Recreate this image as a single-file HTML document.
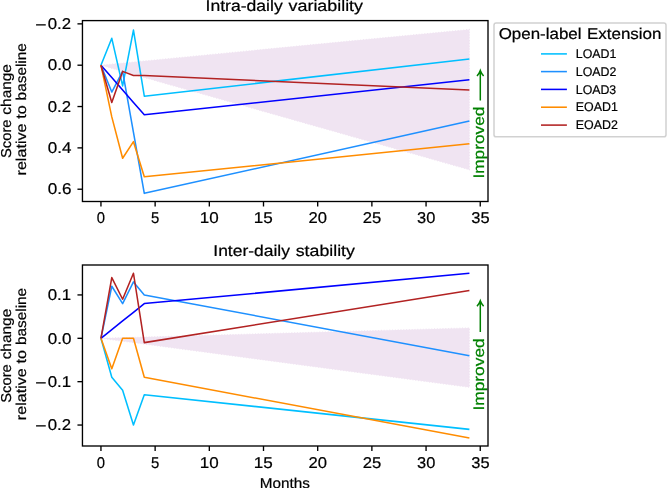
<!DOCTYPE html>
<html><head><meta charset="utf-8"><title>chart</title>
<style>
html,body{margin:0;padding:0;background:#fff;}
body{width:667px;height:488px;overflow:hidden;}
svg{display:block;will-change:transform;}
text{font-family:"Liberation Sans",sans-serif;stroke:#000;stroke-width:0.22px;text-rendering:geometricPrecision;}
text.g{fill:#008000;stroke:#008000;}
</style></head><body>
<svg width="667" height="488" viewBox="0 0 667 488">
<rect x="0" y="0" width="667" height="488" fill="#fff"/>
<polygon points="100.95,65.20 469.41,29.44 469.41,169.79" fill="#F0E4F2" stroke="#F0E4F2" stroke-width="1.1" stroke-dasharray="1.1 1.7"/>
<polyline points="100.95,65.20 111.79,38.33 122.62,85.87 133.46,30.06 144.30,96.20 469.41,59.00" fill="none" stroke="#00BFFF" stroke-width="1.55" stroke-linejoin="round" stroke-linecap="butt"/>
<polyline points="100.95,65.20 111.79,92.07 122.62,71.40 133.46,132.38 144.30,193.35 469.41,121.01" fill="none" stroke="#1E90FF" stroke-width="1.55" stroke-linejoin="round" stroke-linecap="butt"/>
<polyline points="100.95,65.20 111.79,77.60 122.62,90.00 133.46,102.41 144.30,114.81 469.41,79.67" fill="none" stroke="#0000FF" stroke-width="1.55" stroke-linejoin="round" stroke-linecap="butt"/>
<polyline points="100.95,65.20 111.79,116.88 122.62,158.22 133.46,141.68 144.30,176.82 469.41,143.75" fill="none" stroke="#FF8C00" stroke-width="1.55" stroke-linejoin="round" stroke-linecap="butt"/>
<polyline points="100.95,65.20 111.79,102.41 122.62,71.40 133.46,75.53 144.30,75.53 469.41,90.00" fill="none" stroke="#B22222" stroke-width="1.55" stroke-linejoin="round" stroke-linecap="butt"/>
<g transform="translate(484.45,177.10) rotate(-90)">
<text class="g" x="-1.48" y="0.00" font-size="15.20" textLength="71.88" lengthAdjust="spacingAndGlyphs">Improved</text>
</g>
<path d="M480.30 100.60 L480.30 70.80 M477.00 76.10 Q479.30 73.50 480.30 70.60 Q481.30 73.50 483.60 76.10" fill="none" stroke="#008000" stroke-width="1.5"/>
<rect x="82.45" y="20.60" width="405.55" height="180.90" fill="none" stroke="#000" stroke-width="1.35"/>
<line x1="100.95" y1="201.50" x2="100.95" y2="206.50" stroke="#000" stroke-width="1.35"/>
<text x="96.83" y="223.12" font-size="15.60" textLength="8.24" lengthAdjust="spacingAndGlyphs">0</text>
<line x1="155.13" y1="201.50" x2="155.13" y2="206.50" stroke="#000" stroke-width="1.35"/>
<text x="151.00" y="223.12" font-size="15.60" textLength="8.30" lengthAdjust="spacingAndGlyphs">5</text>
<line x1="209.32" y1="201.50" x2="209.32" y2="206.50" stroke="#000" stroke-width="1.35"/>
<text x="199.68" y="223.12" font-size="15.60" textLength="18.94" lengthAdjust="spacingAndGlyphs">10</text>
<line x1="263.50" y1="201.50" x2="263.50" y2="206.50" stroke="#000" stroke-width="1.35"/>
<text x="253.86" y="223.12" font-size="15.60" textLength="19.00" lengthAdjust="spacingAndGlyphs">15</text>
<line x1="317.69" y1="201.50" x2="317.69" y2="206.50" stroke="#000" stroke-width="1.35"/>
<text x="308.52" y="223.12" font-size="15.60" textLength="18.46" lengthAdjust="spacingAndGlyphs">20</text>
<line x1="371.88" y1="201.50" x2="371.88" y2="206.50" stroke="#000" stroke-width="1.35"/>
<text x="362.70" y="223.12" font-size="15.60" textLength="18.52" lengthAdjust="spacingAndGlyphs">25</text>
<line x1="426.06" y1="201.50" x2="426.06" y2="206.50" stroke="#000" stroke-width="1.35"/>
<text x="417.10" y="223.12" font-size="15.60" textLength="18.25" lengthAdjust="spacingAndGlyphs">30</text>
<line x1="480.25" y1="201.50" x2="480.25" y2="206.50" stroke="#000" stroke-width="1.35"/>
<text x="471.28" y="223.12" font-size="15.60" textLength="18.30" lengthAdjust="spacingAndGlyphs">35</text>
<line x1="77.45" y1="23.86" x2="82.45" y2="23.86" stroke="#000" stroke-width="1.35"/>
<text x="35.31" y="30.15" font-size="15.60" textLength="11.27" lengthAdjust="spacingAndGlyphs">−</text>
<text x="47.74" y="29.13" font-size="15.60" textLength="23.29" lengthAdjust="spacingAndGlyphs">0.2</text>
<line x1="77.45" y1="65.20" x2="82.45" y2="65.20" stroke="#000" stroke-width="1.35"/>
<text x="47.73" y="70.47" font-size="15.60" textLength="23.64" lengthAdjust="spacingAndGlyphs">0.0</text>
<line x1="77.45" y1="106.54" x2="82.45" y2="106.54" stroke="#000" stroke-width="1.35"/>
<text x="47.74" y="111.81" font-size="15.60" textLength="23.29" lengthAdjust="spacingAndGlyphs">0.2</text>
<line x1="77.45" y1="147.88" x2="82.45" y2="147.88" stroke="#000" stroke-width="1.35"/>
<text x="47.73" y="153.15" font-size="15.60" textLength="23.63" lengthAdjust="spacingAndGlyphs">0.4</text>
<line x1="77.45" y1="189.22" x2="82.45" y2="189.22" stroke="#000" stroke-width="1.35"/>
<text x="47.73" y="194.49" font-size="15.60" textLength="23.78" lengthAdjust="spacingAndGlyphs">0.6</text>
<text x="205.59" y="11.10" font-size="15.60" textLength="77.12" lengthAdjust="spacingAndGlyphs">Intra-daily</text>
<text x="288.58" y="11.10" font-size="15.60" textLength="74.44" lengthAdjust="spacingAndGlyphs">variability</text>
<g transform="translate(10.50,157.50) rotate(-90)">
<text x="-0.56" y="0.00" font-size="14.30" textLength="38.59" lengthAdjust="spacingAndGlyphs">Score</text>
<text x="42.84" y="0.00" font-size="14.30" textLength="50.63" lengthAdjust="spacingAndGlyphs">change</text>
</g>
<g transform="translate(26.00,174.50) rotate(-90)">
<text x="-0.96" y="0.00" font-size="14.30" textLength="51.94" lengthAdjust="spacingAndGlyphs">relative</text>
<text x="55.73" y="0.00" font-size="14.30" textLength="13.43" lengthAdjust="spacingAndGlyphs">to</text>
<text x="74.10" y="0.00" font-size="14.30" textLength="57.27" lengthAdjust="spacingAndGlyphs">baseline</text>
</g>
<polygon points="100.95,338.30 469.41,327.89 469.41,387.31" fill="#F0E4F2" stroke="#F0E4F2" stroke-width="1.1" stroke-dasharray="1.1 1.7"/>
<polyline points="100.95,338.30 111.79,377.33 122.62,390.34 133.46,425.04 144.30,394.68 469.41,429.38" fill="none" stroke="#00BFFF" stroke-width="1.55" stroke-linejoin="round" stroke-linecap="butt"/>
<polyline points="100.95,338.30 111.79,286.26 122.62,303.60 133.46,281.92 144.30,294.93 469.41,355.65" fill="none" stroke="#1E90FF" stroke-width="1.55" stroke-linejoin="round" stroke-linecap="butt"/>
<polyline points="100.95,338.30 111.79,329.63 122.62,320.95 133.46,312.28 144.30,303.60 469.41,273.25" fill="none" stroke="#0000FF" stroke-width="1.55" stroke-linejoin="round" stroke-linecap="butt"/>
<polyline points="100.95,338.30 111.79,368.66 122.62,338.30 133.46,338.30 144.30,377.33 469.41,438.05" fill="none" stroke="#FF8C00" stroke-width="1.55" stroke-linejoin="round" stroke-linecap="butt"/>
<polyline points="100.95,338.30 111.79,277.58 122.62,299.27 133.46,273.25 144.30,342.64 469.41,290.59" fill="none" stroke="#B22222" stroke-width="1.55" stroke-linejoin="round" stroke-linecap="butt"/>
<g transform="translate(484.45,409.10) rotate(-90)">
<text class="g" x="-1.49" y="0.00" font-size="15.20" textLength="72.30" lengthAdjust="spacingAndGlyphs">Improved</text>
</g>
<path d="M480.30 332.10 L480.30 300.90 M477.00 306.20 Q479.30 303.60 480.30 300.70 Q481.30 303.60 483.60 306.20" fill="none" stroke="#008000" stroke-width="1.5"/>
<rect x="82.45" y="265.00" width="405.55" height="181.00" fill="none" stroke="#000" stroke-width="1.35"/>
<line x1="100.95" y1="446.00" x2="100.95" y2="451.00" stroke="#000" stroke-width="1.35"/>
<text x="96.83" y="467.82" font-size="15.60" textLength="8.24" lengthAdjust="spacingAndGlyphs">0</text>
<line x1="155.13" y1="446.00" x2="155.13" y2="451.00" stroke="#000" stroke-width="1.35"/>
<text x="151.00" y="467.82" font-size="15.60" textLength="8.30" lengthAdjust="spacingAndGlyphs">5</text>
<line x1="209.32" y1="446.00" x2="209.32" y2="451.00" stroke="#000" stroke-width="1.35"/>
<text x="199.68" y="467.82" font-size="15.60" textLength="18.94" lengthAdjust="spacingAndGlyphs">10</text>
<line x1="263.50" y1="446.00" x2="263.50" y2="451.00" stroke="#000" stroke-width="1.35"/>
<text x="253.86" y="467.82" font-size="15.60" textLength="19.00" lengthAdjust="spacingAndGlyphs">15</text>
<line x1="317.69" y1="446.00" x2="317.69" y2="451.00" stroke="#000" stroke-width="1.35"/>
<text x="308.52" y="467.82" font-size="15.60" textLength="18.46" lengthAdjust="spacingAndGlyphs">20</text>
<line x1="371.88" y1="446.00" x2="371.88" y2="451.00" stroke="#000" stroke-width="1.35"/>
<text x="362.70" y="467.82" font-size="15.60" textLength="18.52" lengthAdjust="spacingAndGlyphs">25</text>
<line x1="426.06" y1="446.00" x2="426.06" y2="451.00" stroke="#000" stroke-width="1.35"/>
<text x="417.10" y="467.82" font-size="15.60" textLength="18.25" lengthAdjust="spacingAndGlyphs">30</text>
<line x1="480.25" y1="446.00" x2="480.25" y2="451.00" stroke="#000" stroke-width="1.35"/>
<text x="471.28" y="467.82" font-size="15.60" textLength="18.30" lengthAdjust="spacingAndGlyphs">35</text>
<line x1="77.45" y1="294.93" x2="82.45" y2="294.93" stroke="#000" stroke-width="1.35"/>
<text x="47.74" y="300.20" font-size="15.60" textLength="23.39" lengthAdjust="spacingAndGlyphs">0.1</text>
<line x1="77.45" y1="338.30" x2="82.45" y2="338.30" stroke="#000" stroke-width="1.35"/>
<text x="47.73" y="343.57" font-size="15.60" textLength="23.64" lengthAdjust="spacingAndGlyphs">0.0</text>
<line x1="77.45" y1="381.67" x2="82.45" y2="381.67" stroke="#000" stroke-width="1.35"/>
<text x="35.31" y="387.96" font-size="15.60" textLength="11.27" lengthAdjust="spacingAndGlyphs">−</text>
<text x="47.74" y="386.94" font-size="15.60" textLength="23.39" lengthAdjust="spacingAndGlyphs">0.1</text>
<line x1="77.45" y1="425.04" x2="82.45" y2="425.04" stroke="#000" stroke-width="1.35"/>
<text x="35.31" y="431.33" font-size="15.60" textLength="11.27" lengthAdjust="spacingAndGlyphs">−</text>
<text x="47.74" y="430.31" font-size="15.60" textLength="23.29" lengthAdjust="spacingAndGlyphs">0.2</text>
<text x="213.30" y="255.80" font-size="15.60" textLength="76.66" lengthAdjust="spacingAndGlyphs">Inter-daily</text>
<text x="295.73" y="255.80" font-size="15.60" textLength="59.20" lengthAdjust="spacingAndGlyphs">stability</text>
<g transform="translate(10.50,402.20) rotate(-90)">
<text x="-0.56" y="0.00" font-size="14.30" textLength="38.59" lengthAdjust="spacingAndGlyphs">Score</text>
<text x="42.84" y="0.00" font-size="14.30" textLength="50.63" lengthAdjust="spacingAndGlyphs">change</text>
</g>
<g transform="translate(26.00,419.20) rotate(-90)">
<text x="-0.96" y="0.00" font-size="14.30" textLength="51.94" lengthAdjust="spacingAndGlyphs">relative</text>
<text x="55.73" y="0.00" font-size="14.30" textLength="13.43" lengthAdjust="spacingAndGlyphs">to</text>
<text x="74.10" y="0.00" font-size="14.30" textLength="57.27" lengthAdjust="spacingAndGlyphs">baseline</text>
</g>
<text x="259.86" y="488.40" font-size="14.30" textLength="50.08" lengthAdjust="spacingAndGlyphs">Months</text>
<rect x="494.0" y="22.95" width="172.0" height="113.9" rx="2.2" ry="2.2" fill="#fff" stroke="#d1d1d1" stroke-width="1.5"/>
<text x="498.71" y="39.30" font-size="15.60" textLength="82.76" lengthAdjust="spacingAndGlyphs">Open-label</text>
<text x="586.95" y="39.30" font-size="15.60" textLength="74.54" lengthAdjust="spacingAndGlyphs">Extension</text>
<line x1="541.0" y1="53.90" x2="566.9" y2="53.90" stroke="#00BFFF" stroke-width="1.55"/>
<text x="575.80" y="58.00" font-size="12.70" textLength="40.50" lengthAdjust="spacingAndGlyphs">LOAD1</text>
<line x1="541.0" y1="71.60" x2="566.9" y2="71.60" stroke="#1E90FF" stroke-width="1.55"/>
<text x="575.80" y="75.70" font-size="12.70" textLength="40.51" lengthAdjust="spacingAndGlyphs">LOAD2</text>
<line x1="541.0" y1="89.40" x2="566.9" y2="89.40" stroke="#0000FF" stroke-width="1.55"/>
<text x="575.80" y="93.50" font-size="12.70" textLength="40.43" lengthAdjust="spacingAndGlyphs">LOAD3</text>
<line x1="541.0" y1="107.20" x2="566.9" y2="107.20" stroke="#FF8C00" stroke-width="1.55"/>
<text x="575.79" y="111.30" font-size="12.70" textLength="42.11" lengthAdjust="spacingAndGlyphs">EOAD1</text>
<line x1="541.0" y1="125.10" x2="566.9" y2="125.10" stroke="#B22222" stroke-width="1.55"/>
<text x="575.79" y="129.20" font-size="12.70" textLength="42.12" lengthAdjust="spacingAndGlyphs">EOAD2</text>
</svg></body></html>
